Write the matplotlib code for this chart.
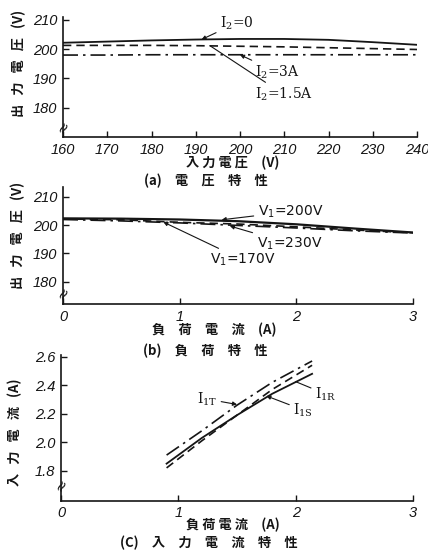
import matplotlib
matplotlib.use("Agg")
import matplotlib.pyplot as plt
import matplotlib.transforms as mtransforms

plt.rcParams['mathtext.default'] = 'regular'

# ---------------- data ----------------
# (a) output voltage vs input voltage
a_vin = [160, 170, 180, 190, 200, 210, 220, 230, 240]
a_i2_0 = [202.2, 202.6, 203.0, 203.3, 203.5, 203.5, 203.2, 202.4, 201.5]
a_i2_15 = [201.3, 201.3, 201.3, 201.2, 201.0, 200.8, 200.5, 200.2, 199.9]
a_i2_3 = [198.0, 198.0, 198.1, 198.1, 198.1, 198.1, 198.1, 198.1, 198.1]
a_xticks = [160, 170, 180, 190, 200, 210, 220, 230, 240]
a_yticks = [180, 190, 200, 210]

# (b) output voltage vs load current
b_iload = [0, 0.5, 1.0, 1.5, 2.0, 2.5, 3.0]
b_v200 = [202.4, 202.3, 202.0, 201.4, 200.3, 198.8, 197.4]
b_v170 = [202.2, 201.9, 201.0, 200.4, 199.4, 198.3, 197.3]
b_v230 = [202.0, 201.5, 200.8, 199.9, 199.0, 198.0, 197.2]
b_xticks = [0, 1, 2, 3]
b_yticks = [180, 190, 200, 210]

# (c) input current vs load current
c_iload = [0.9, 1.2, 1.5, 1.8, 2.14]
c_i1t = [1.91, 2.08, 2.26, 2.42, 2.57]
c_i1s = [1.85, 2.03, 2.19, 2.34, 2.48]
c_i1r = [1.82, 2.01, 2.19, 2.37, 2.54]
c_xticks = [0, 1, 2, 3]
c_yticks = [1.8, 2.0, 2.2, 2.4, 2.6]
c_yticklabels = ['1.8', '2.0', '2.2', '2.4', '2.6']

# ---------------- style ----------------
INK = '#151515'
JP = ['Noto Sans CJK JP', 'DejaVu Sans']
NUM = 'Liberation Sans'
DASH = (0, (5, 3))
DASHDOT = (0, (9, 3, 1.5, 3))

fig = plt.figure(figsize=(4.28, 5.51), dpi=100)
W, H = 428.0, 551.0


def make_ax(l, t, r, b):
    return fig.add_axes([l / W, 1 - b / H, (r - l) / W, (b - t) / H])


def style(ax, xt, yt, xl=None, yl=None):
    for s in ('top', 'right'):
        ax.spines[s].set_visible(False)
    for s in ('left', 'bottom'):
        ax.spines[s].set_linewidth(1.2)
        ax.spines[s].set_color(INK)
    ax.tick_params(direction='in', length=4, width=1.0, colors=INK, pad=4)
    ax.set_xticks(xt)
    ax.set_yticks(yt)
    fkw = dict(family=NUM, fontstyle='italic', fontsize=10.5, color=INK)
    ax.set_xticklabels(xl if xl is not None else [str(v) for v in xt], **fkw)
    ax.set_yticklabels(yl if yl is not None else [str(v) for v in yt], **fkw)


def brk(ax, y):
    tr = mtransforms.blended_transform_factory(ax.transAxes, ax.transData)
    ax.text(0, y, '≈', transform=tr, ha='center', va='center',
            fontsize=11, rotation=60, color=INK, family='DejaVu Sans')


ann_arrow = dict(arrowstyle='-|>', lw=0.8, color=INK, mutation_scale=6,
                 shrinkA=1, shrinkB=0)
ann_line = dict(arrowstyle='-', lw=0.8, color=INK, shrinkA=1, shrinkB=0)

# ---------------- (a) ----------------
axa = make_ax(63, 17, 417, 137)
axa.plot(a_vin, a_i2_0, color=INK, lw=1.3, ls='-')
axa.plot(a_vin, a_i2_15, color=INK, lw=1.2, ls=DASH)
axa.plot(a_vin, a_i2_3, color=INK, lw=1.2, ls=DASHDOT)
axa.set_xlim(160, 240)
axa.set_ylim(170, 211)
style(axa, a_xticks, a_yticks)
brk(axa, 173.2)
axa.annotate('I$_2$=0', xy=(191.3, 203.3), xytext=(195.5, 209.0),
             ha='left', va='center', fontsize=10, family='DejaVu Serif',
             color=INK, arrowprops=ann_arrow)
axa.annotate('I$_2$=3A', xy=(200.0, 198.1), xytext=(203.4, 192.1),
             ha='left', va='center', fontsize=10, family='DejaVu Serif',
             color=INK, arrowprops=ann_arrow)
axa.annotate('I$_2$=1.5A', xy=(193.2, 201.2), xytext=(203.4, 184.5),
             ha='left', va='center', fontsize=10, family='DejaVu Serif',
             color=INK, arrowprops=ann_line)

# ---------------- (b) ----------------
axb = make_ax(63, 187, 413, 304)
axb.plot(b_iload, b_v200, color=INK, lw=1.6, ls='-')
axb.plot(b_iload, b_v170, color=INK, lw=1.2, ls=DASH)
axb.plot(b_iload, b_v230, color=INK, lw=1.2, ls=DASHDOT)
axb.set_xlim(0, 3)
axb.set_ylim(172.1, 213.5)
style(axb, b_xticks, b_yticks)
brk(axb, 175.9)
axb.annotate('V$_1$=200V', xy=(1.36, 201.9), xytext=(1.67, 204.8),
             ha='left', va='center', fontsize=10, family='DejaVu Sans',
             color=INK, arrowprops=ann_arrow)
axb.annotate('V$_1$=230V', xy=(1.43, 199.7), xytext=(1.66, 193.5),
             ha='left', va='center', fontsize=10, family='DejaVu Sans',
             color=INK, arrowprops=ann_arrow)
axb.annotate('V$_1$=170V', xy=(0.86, 201.1), xytext=(1.26, 187.7),
             ha='left', va='center', fontsize=10, family='DejaVu Sans',
             color=INK, arrowprops=ann_arrow)

# ---------------- (c) ----------------
axc = make_ax(61, 355, 413, 500.7)
axc.plot(c_iload, c_i1t, color=INK, lw=1.2, ls=DASHDOT)
axc.plot(c_iload, c_i1s, color=INK, lw=1.3, ls='-')
axc.plot(c_iload, c_i1r, color=INK, lw=1.2, ls=DASH)
axc.set_xlim(0, 3)
axc.set_ylim(1.59, 2.612)
style(axc, c_xticks, c_yticks, yl=c_yticklabels)
brk(axc, 1.70)
axc.annotate('I$_{1T}$', xy=(1.50, 2.265), xytext=(1.157, 2.303),
             ha='left', va='center', fontsize=10, family='DejaVu Serif',
             color=INK, arrowprops=ann_arrow)
axc.annotate('I$_{1S}$', xy=(1.75, 2.325), xytext=(1.98, 2.226),
             ha='left', va='center', fontsize=10, family='DejaVu Serif',
             color=INK, arrowprops=ann_arrow)
axc.annotate('I$_{1R}$', xy=(2.0, 2.425), xytext=(2.165, 2.338),
             ha='left', va='center', fontsize=10, family='DejaVu Serif',
             color=INK, arrowprops=ann_line)

# ---------------- texts ----------------
def ftext(x, y, s, **kw):
    fig.text(x / W, 1 - y / H, s, ha='center', va='center', color=INK,
             family=JP, fontweight='bold', **kw)

ftext(233, 162.5, '入 力 電 圧\u3000(V)', fontsize=9.5)
ftext(206, 181, '(a)\u3000電\u3000圧\u3000特\u3000性', fontsize=9.5)
ftext(214, 330, '負\u3000荷\u3000電\u3000流\u3000(A)', fontsize=9.5)
ftext(205, 350.5, '(b)\u3000負\u3000荷\u3000特\u3000性', fontsize=9.5)
ftext(233, 525, '負 荷 電 流\u3000(A)', fontsize=9.5)
ftext(209, 542.5, '(C)\u3000入\u3000力\u3000電\u3000流\u3000特\u3000性', fontsize=9.5)

ftext(19, 63, '出   力   電   圧   (V)', fontsize=9.5, rotation=90)
ftext(18, 235, '出   力   電   圧   (V)', fontsize=9.5, rotation=90)
ftext(15, 432, '入   力   電   流   (A)', fontsize=9.5, rotation=90)

fig.savefig('out.png', dpi=100)
